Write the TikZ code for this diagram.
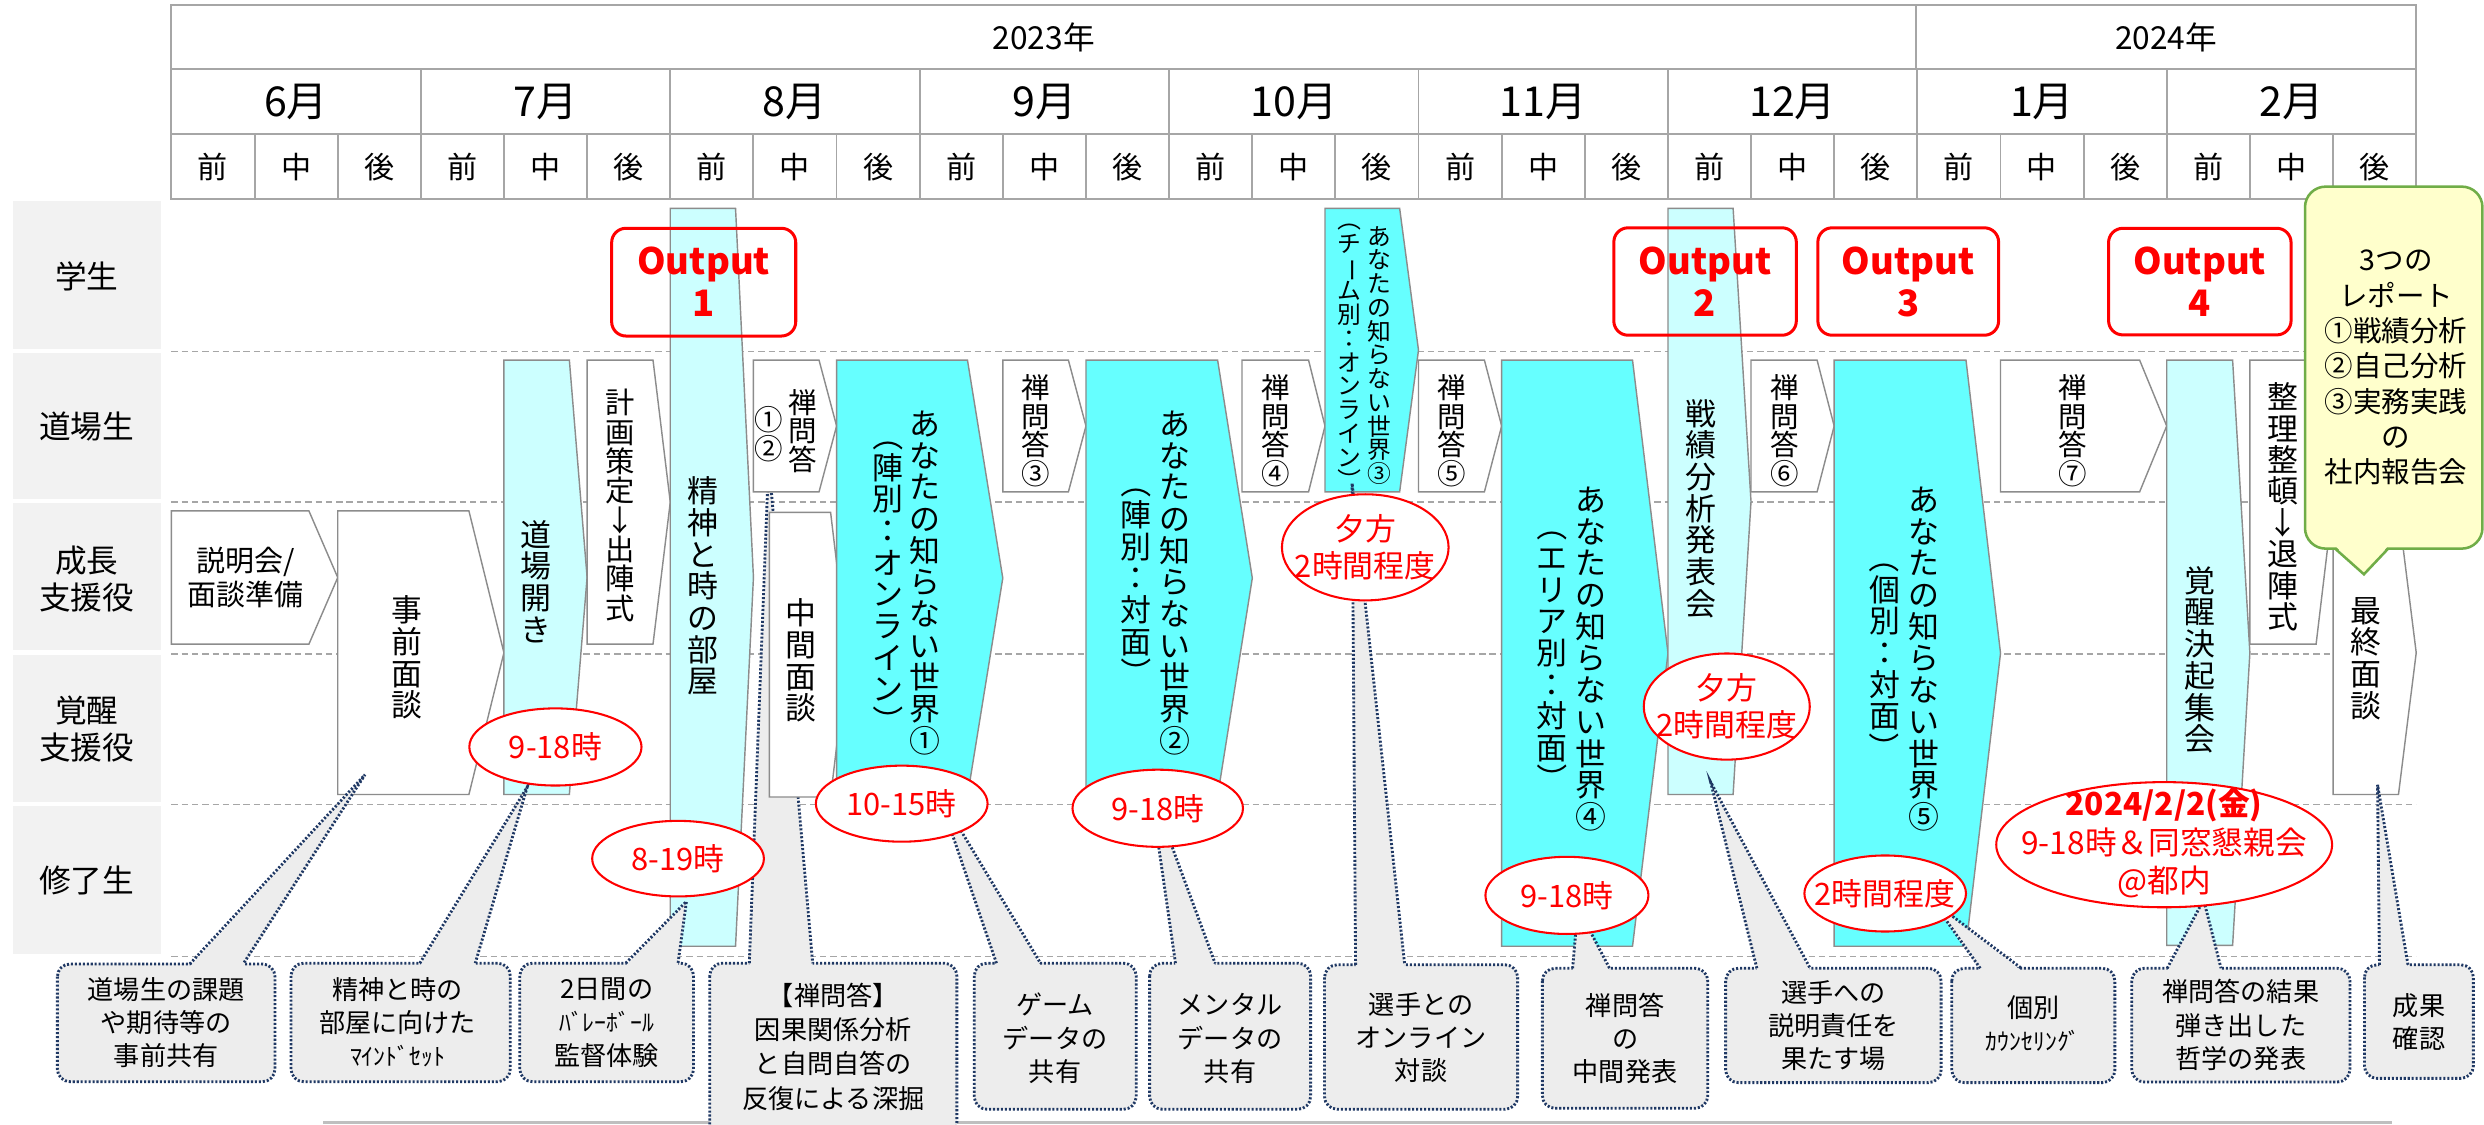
\documentclass[tikz,border=0pt]{standalone}
\usepackage{fontspec}
\setmainfont{Noto Sans CJK JP}
\usepackage{graphicx}
\usetikzlibrary{shapes.geometric}
\definecolor{tblgray}{HTML}{A6A6A6}
\definecolor{dashgray}{HTML}{A6A6A6}
\definecolor{lblgray}{HTML}{F2F2F2}
\definecolor{shpline}{HTML}{8C8C8C}
\definecolor{cyanL}{HTML}{CCFFFF}
\definecolor{cyanD}{HTML}{66FFFF}
\definecolor{navy}{HTML}{1F3864}
\definecolor{callgray}{HTML}{EDEDED}
\definecolor{yelfill}{HTML}{FFFFCC}
\definecolor{grnline}{HTML}{70AD47}
\definecolor{botline}{HTML}{BFBFBF}
\newcommand\setfs[2]{\fontsize{#1}{#2}\selectfont}
\newcommand\rv[1]{\rotatebox[origin=c]{-90}{#1}}
\makeatletter
\newcommand\tate[2]{\vbox{\baselineskip=#1pt\lineskiplimit=-100pt\lineskip=0pt\tate@aux#2\relax}}
\def\tate@aux#1{\ifx\relax#1\else\hbox to 1.1em{\hss#1\hss}\expandafter\tate@aux\fi}
\makeatother
\newcommand\chev[6]{\draw[#1] (#2,#5) -- (#3,#5) -- (#4,{(#5+#6)/2}) -- (#3,#6) -- (#2,#6) -- cycle;}
\newcommand\mkcallout[8]{%
 \draw[call,rounded corners=8pt] (#1,#2) rectangle (#3,#4);
 \fill[callgray] (#5,{#2+1.6}) -- (#7,#8) -- (#6,{#2+1.6}) -- cycle;
 \draw[call,fill=none] (#5,#2) -- (#7,#8) -- (#6,#2);}
\begin{document}
\begin{tikzpicture}[x=1pt,y=-1pt,
  tbl/.style={draw=tblgray,line width=1.2},
  dsh/.style={draw=dashgray,line width=0.9,dash pattern=on 4pt off 2.5pt},
  lbl/.style={fill=lblgray,draw=none},
  wbox/.style={draw=shpline,line width=0.9,fill=white},
  cbox/.style={draw=shpline,line width=0.9,fill=cyanL},
  dbox/.style={draw=shpline,line width=0.9,fill=cyanD},
  call/.style={draw=navy,fill=callgray,line width=1.8,dash pattern=on 1.3pt off 1.2pt},
  ell/.style={ellipse,draw=red,fill=white,line width=1.3,inner sep=0pt},
  redt/.style={text=red,font=\setfs{19.5}{23.5},align=center,inner sep=0pt},
  outbox/.style={draw=red,line width=1.9,rounded corners=9pt},
  outt/.style={text=red,font=\setfs{23}{26.5}\bfseries,align=center,inner sep=0pt},
  ctext/.style={font=\setfs{16.5}{21},align=center,inner sep=0pt},
  vt/.style={font=\setfs{19.5}{20},inner sep=0pt},
  vs/.style={font=\setfs{18}{18},inner sep=0pt},
  rlab/.style={font=\setfs{20}{23.5},align=center,inner sep=0pt},
  yc/.style={draw=grnline,fill=yelfill,line width=1.6}
]
\fill[white] (0,0) rectangle (1568,710);
\useasboundingbox (0,0) rectangle (1568,710);

% ---------- header table ----------
\draw[tbl] (108.2,2.9) rectangle (1525.2,125.8);
\draw[tbl] (108.2,43.8) -- (1525.2,43.8);
\draw[tbl] (108.2,84.8) -- (1525.2,84.8);
\draw[tbl] (1209.5,2.9) -- (1209.5,43.8);
\foreach \i in {1,...,8} \draw[tbl] ({108.2+\i*157.44},43.8) -- ({108.2+\i*157.44},125.8);
\foreach \i in {1,...,26} \draw[tbl] ({108.2+\i*52.48},84.8) -- ({108.2+\i*52.48},125.8);
\node[font=\setfs{20}{20}] (y2023) at (658.9,23.4) {2023年};
\node[font=\setfs{20}{20}] (y2024) at (1367.4,23.4) {2024年};
\foreach \m [count=\i from 0] in {6月,7月,8月,9月,10月,11月,12月,1月,2月}
  \node[font=\setfs{26}{26}] (mon\i) at ({108.2+(\i+0.5)*157.44},64.3) {\m};
\foreach \k in {0,...,8} {
  \node[font=\setfs{19}{19}] (pa\k) at ({108.2+(3*\k+0.5)*52.48},105.3) {前};
  \node[font=\setfs{19}{19}] (pb\k) at ({108.2+(3*\k+1.5)*52.48},105.3) {中};
  \node[font=\setfs{19}{19}] (pc\k) at ({108.2+(3*\k+2.5)*52.48},105.3) {後};
}

% ---------- row labels ----------
\fill[lbl] (8,126.8) rectangle (101.5,220.4);
\fill[lbl] (8,222.6) rectangle (101.5,315.2);
\fill[lbl] (8,317.8) rectangle (101.5,410.4);
\fill[lbl] (8,413.5) rectangle (101.5,506.2);
\fill[lbl] (8,508.7) rectangle (101.5,602);
\node[rlab] (r1) at (54.75,174.5) {学生};
\node[rlab] (r2) at (54.75,269.5) {道場生};
\node[rlab] (r3) at (54.75,365.5) {成長\\支援役};
\node[rlab] (r4) at (54.75,460) {覚醒\\支援役};
\node[rlab] (r5) at (54.75,556) {修了生};

\foreach \y in {222,317,412.7,507.9,603.6} \draw[dsh] (108.2,\y) -- (1525.2,\y);
\draw[botline,line width=1.4] (204,708.6) -- (1509.6,708.6);

% callout under shapes
\mkcallout{448}{608}{604}{718}{473}{513}{485.2}{291}

% ---------- process shapes ----------
\chev{wbox}{108.2}{195}{213.2}{322.5}{406.6}
\chev{wbox}{213.2}{296}{318.1}{322.5}{501.5}
\chev{cbox}{318.1}{359.4}{370.6}{227.3}{501.5}
\chev{wbox}{370.6}{412.2}{423.1}{227.3}{406.6}
\chev{cbox}{423.1}{464.3}{475.6}{131.5}{597.3}
\chev{wbox}{475.6}{517}{528.1}{227.3}{310.5}
\chev{wbox}{485.7}{524.3}{535}{323.4}{503.1}
\chev{dbox}{528.1}{610.7}{633}{227.3}{502.5}
\chev{wbox}{633}{674.4}{685.5}{227.3}{310.5}
\chev{dbox}{685.5}{768.6}{790.5}{227.3}{502.5}
\chev{wbox}{784}{826}{836.4}{227.3}{310.5}
\chev{dbox}{836.4}{883.5}{895.4}{131.5}{310.5}
\chev{wbox}{895.4}{937}{947.9}{227.3}{310.5}
\chev{dbox}{947.9}{1030.5}{1052.9}{227.3}{597.3}
\chev{cbox}{1052.9}{1094}{1105.3}{131.5}{501.5}
\chev{wbox}{1105.3}{1147}{1157.8}{227.3}{310.5}
\chev{dbox}{1157.8}{1241}{1262.8}{227.3}{597.3}
\chev{wbox}{1262.8}{1350.6}{1367.7}{227.3}{310.5}
\chev{cbox}{1367.7}{1409.3}{1420.2}{227.3}{596.8}
\chev{wbox}{1420.2}{1462}{1472.7}{227.3}{406.6}
\chev{wbox}{1472.7}{1514}{1525.2}{322.5}{501.5}

% ---------- shape texts ----------
\node[font=\setfs{18.3}{22},align=center,inner sep=0pt] (tsetsu) at (155,364.5) {説明会/\\面談準備};
\node[vt] (tjizen) at (257,415) {\tate{20}{事前面談}};
\node[vt] (tdojo) at (338.6,367) {\tate{20}{道場開き}};
\node[vt,font=\setfs{18.5}{18.5}] (tkei) at (391.3,319) {\tate{18.5}{計画策定↓出陣式}};
\node[vt] (tseishin) at (444,370) {\tate{20}{精神と時の部屋}};
\node[vs] (tz1a) at (507,272) {\tate{18}{禅問答}};
\node[vs] (tz1b) at (485.5,274) {\tate{18}{①②}};
\node[vt] (tchukan) at (505.4,417) {\tate{20}{中間面談}};
\node[vt] (tw1a) at (583.7,368) {\tate{20}{あなたの知らない世界①}};
\node[vt] (tw1b) at (560.5,365) {\tate{20}{{\rv{（}}陣別：オンライン{\rv{）}}}};
\node[vs] (tz3) at (653.9,272) {\tate{18}{禅問答③}};
\node[vt] (tw2a) at (741.7,368) {\tate{20}{あなたの知らない世界②}};
\node[vt] (tw2b) at (717,365) {\tate{20}{{\rv{（}}陣別：対面{\rv{）}}}};
\node[vs] (tz4) at (805,272) {\tate{18}{禅問答④}};
\node[vt,font=\setfs{15}{15}] (tw3a) at (870.8,224.4) {\tate{15}{あなたの知らない世界③}};
\node[vt,font=\setfs{15}{15}] (tw3b) at (851.6,221) {\tate{15}{{\rv{（}}チ{\rv{ー}}ム別：オンライン{\rv{）}}}};
\node[vs] (tz5) at (916.2,272) {\tate{18}{禅問答⑤}};
\node[vt] (tw4a) at (1004.3,416) {\tate{20}{あなたの知らない世界④}};
\node[vt] (tw4b) at (979.8,412) {\tate{20}{{\rv{（}}エリア別：対面{\rv{）}}}};
\node[vt] (tsenseki) at (1073.6,321) {\tate{20}{戦績分析発表会}};
\node[vs] (tz6) at (1126.3,272) {\tate{18}{禅問答⑥}};
\node[vt] (tw5a) at (1214.5,416) {\tate{20}{あなたの知らない世界⑤}};
\node[vt] (tw5b) at (1189.7,412) {\tate{20}{{\rv{（}}個別：対面{\rv{）}}}};
\node[vs] (tz7) at (1308.2,272) {\tate{18}{禅問答⑦}};
\node[vt] (tkakusei) at (1388.6,416.5) {\tate{20}{覚醒決起集会}};
\node[vt,font=\setfs{19.5}{19.8}] (tseiri) at (1441,320) {\tate{19.8}{整理整頓↓退陣式}};
\node[vt] (tsaishu) at (1493.2,415.7) {\tate{20}{最終面談}};

% ---------- callouts ----------
\mkcallout{36.2}{608.5}{173.6}{682.8}{119.8}{153.5}{230.4}{489}
\mkcallout{183.7}{608}{322.1}{682.8}{265}{300}{332.8}{496.8}
\mkcallout{328.1}{608}{437.8}{682.8}{395}{428}{433.3}{569}
\mkcallout{615}{608}{717.2}{700.2}{629}{656.8}{592}{500}
\mkcallout{725.7}{608}{827.3}{700.2}{742}{767}{726}{497}
\mkcallout{836.1}{609}{958}{700.2}{855.7}{886.7}{853.5}{305}
\mkcallout{973.6}{611.2}{1078}{699.6}{992.7}{1016}{996}{573}
\mkcallout{1089.3}{611.2}{1225.3}{683.4}{1109}{1142.6}{1079.8}{493.6}
\mkcallout{1232}{611.2}{1335}{683.4}{1250}{1276}{1220}{569}
\mkcallout{1345.6}{611.2}{1483.4}{683}{1368}{1402}{1391}{568}
\mkcallout{1492.5}{609}{1561.3}{680.7}{1502}{1520}{1500.8}{495.4}

\node[ctext] (c1) at (104.9,645.6) {道場生の課題\\や期待等の\\事前共有};
\node[ctext] (c2) at (251,645.4) {精神と時の\\部屋に向けた\\{\setfs{15}{21}ﾏｲﾝﾄﾞｾｯﾄ}};
\node[ctext] (c3) at (383,645.4) {2日間の\\{\setfs{15}{21}ﾊﾞﾚｰﾎﾞｰﾙ}\\監督体験};
\node[ctext,font=\setfs{16.5}{21.7}] (c4) at (526,660.7) {【禅問答】\\因果関係分析\\と自問自答の\\反復による深掘};
\node[ctext] (c5) at (666,655.5) {ゲーム\\データの\\共有};
\node[ctext] (c6) at (776.5,655.5) {メンタル\\データの\\共有};
\node[ctext] (c7) at (897,655) {選手との\\オンライン\\対談};
\node[ctext] (c8) at (1025.8,655.4) {禅問答\\の\\中間発表};
\node[ctext] (c9) at (1157.3,647.3) {選手への\\説明責任を\\果たす場};
\node[ctext] (c10) at (1283.5,646) {個別\\{\setfs{15}{21}ｶｳﾝｾﾘﾝｸﾞ}};
\node[ctext] (c11) at (1414.5,647) {禅問答の結果\\弾き出した\\哲学の発表};
\node[ctext] (c12) at (1527,645) {成果\\確認};

% ---------- ellipses ----------
\node[ell,minimum width=108.7pt,minimum height=48.7pt] (e1) at (350.6,471.5) {};
\node[redt] (e1t) at (e1.center) {9-18時};
\node[ell,minimum width=108.4pt,minimum height=47.7pt] (e2) at (428,542) {};
\node[redt] (e2t) at (e2.center) {8-19時};
\node[ell,minimum width=108.4pt,minimum height=48pt] (e3) at (569.2,507.3) {};
\node[redt] (e3t) at (e3.center) {10-15時};
\node[ell,minimum width=107.6pt,minimum height=48.7pt] (e4) at (730.8,510.2) {};
\node[redt] (e4t) at (e4.center) {9-18時};
\node[ell,minimum width=105.2pt,minimum height=67pt] (e5) at (861.8,345.5) {};
\node[redt] (e5t) at (e5.center) {夕方\\2時間程度};
\node[ell,minimum width=102.9pt,minimum height=48.7pt] (e6) at (989.1,565.2) {};
\node[redt] (e6t) at (e6.center) {9-18時};
\node[ell,minimum width=104.8pt,minimum height=67pt] (e7) at (1090,446) {};
\node[redt] (e7t) at (e7.center) {夕方\\2時間程度};
\node[ell,minimum width=102pt,minimum height=48pt] (e8) at (1190,564) {};
\node[redt] (e8t) at (e8.center) {2時間程度};
\node[ell,minimum width=212pt,minimum height=79pt] (e9) at (1366.1,533.2) {};
\node[redt,font=\setfs{20}{24.2}] (e9t) at (1366,532.4) {{\bfseries 2024/2/2(金)}\\9-18時＆同窓懇親会\\@都内};

% ---------- output boxes ----------
\draw[outbox] (386.1,144.1) rectangle (502.3,212.1);
\node[outt] (o1) at (444.2,178) {Output\\1};
\draw[outbox] (1018.7,143.8) rectangle (1133.9,211.6);
\node[outt] (o2) at (1076.3,178) {Output\\2};
\draw[outbox] (1147.5,143.8) rectangle (1261.6,211.6);
\node[outt] (o3) at (1204.6,178) {Output\\3};
\draw[outbox] (1331,144.1) rectangle (1446.2,211.4);
\node[outt] (o4) at (1388.6,178) {Output\\4};

% ---------- report callout ----------
\draw[yc,rounded corners=13pt] (1455,117.8) rectangle (1567,346.3);
\fill[yelfill] (1474,344.5) -- (1492.2,362.5) -- (1507.5,344.5) -- cycle;
\draw[grnline,line width=1.6] (1474,346.3) -- (1492.2,362.5) -- (1507.5,346.3);
\node[font=\setfs{18}{22.3},align=center,inner sep=0pt] (rep) at (1512.5,232.1) {3つの\\レポート\\①戦績分析\\②自己分析\\③実務実践\\の\\社内報告会};
\end{tikzpicture}
\end{document}
